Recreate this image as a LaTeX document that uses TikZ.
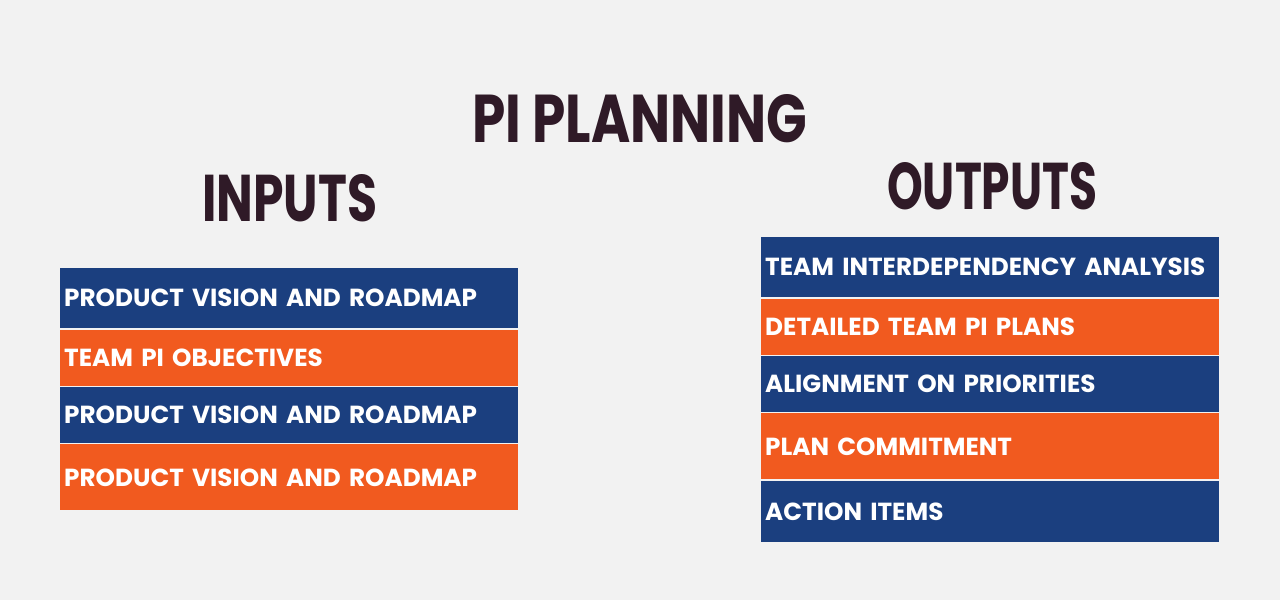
\documentclass[tikz,border=0pt]{standalone}
\usepackage{fontspec}
\usepackage{graphicx}
\setmainfont{Poppins}
\usetikzlibrary{positioning}
\definecolor{bgcol}{HTML}{F2F2F2}
\definecolor{piblue}{HTML}{1B3F7F}
\definecolor{piorange}{HTML}{F15A1F}
\definecolor{inkcol}{HTML}{2F1A27}
\tikzset{
  rowbox/.style={anchor=north west, text width=450pt, inner xsep=4pt, inner ysep=0pt,
    align=left, text=white, font=\fontsize{24.7}{30}\selectfont\bfseries},
  headline/.style={anchor=south west, inner sep=0pt, text=inkcol, font=\bfseries}
}

\begin{document}
\begin{tikzpicture}[x=1pt,y=-1pt,node distance=1pt]
      \fill[bgcol] (0,0) rectangle (1280,600);
      \useasboundingbox (0,0) rectangle (1280,600);
      \node[headline] (title) at (472,143) {\resizebox{335pt}{48pt}{PI PLANNING}};
      \node[headline] (inhead) at (202,222) {\resizebox{175pt}{47pt}{INPUTS}};
      \node[headline] (outhead) at (887,210) {\resizebox{210pt}{47pt}{OUTPUTS}};
      \node[rowbox, fill=piblue, minimum height=60pt] (in1) at (60,268) {PRODUCT VISION AND ROADMAP};
      \node[rowbox, fill=piorange, minimum height=56pt, below=of in1] (in2) {TEAM PI OBJECTIVES};
      \node[rowbox, fill=piblue, minimum height=56pt, below=of in2] (in3) {PRODUCT VISION AND ROADMAP};
      \node[rowbox, fill=piorange, minimum height=66pt, below=of in3] (in4) {PRODUCT VISION AND ROADMAP};
      \node[rowbox, fill=piblue, minimum height=60pt] (out1) at (761,237) {TEAM INTERDEPENDENCY ANALYSIS};
      \node[rowbox, fill=piorange, minimum height=56pt, below=of out1] (out2) {DETAILED TEAM PI PLANS};
      \node[rowbox, fill=piblue, minimum height=56pt, below=of out2] (out3) {ALIGNMENT ON PRIORITIES};
      \node[rowbox, fill=piorange, minimum height=66pt, below=of out3] (out4) {PLAN COMMITMENT};
      \node[rowbox, fill=piblue, minimum height=61pt, below=of out4] (out5) {ACTION ITEMS};
      \end{tikzpicture}
\end{document}
